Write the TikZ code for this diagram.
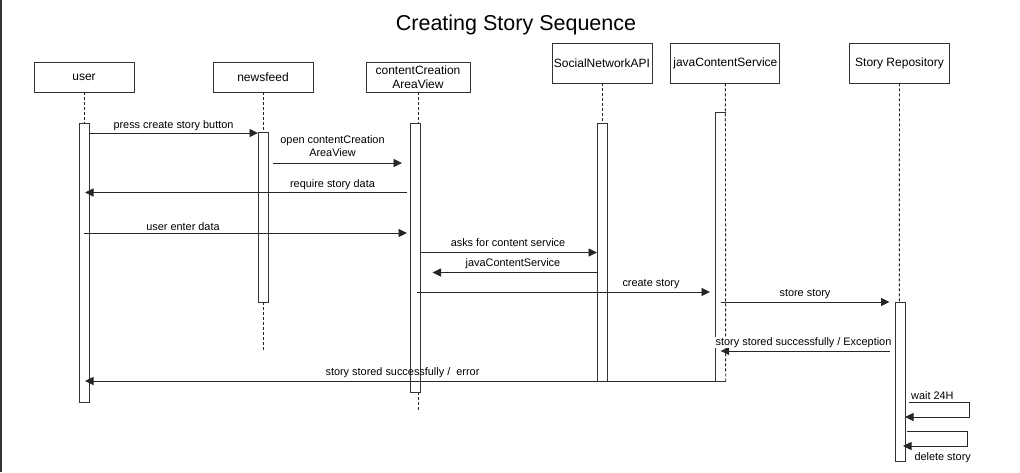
\documentclass[tikz,border=0pt]{standalone}
\usepackage{fontspec}
\setmainfont{Liberation Sans}
\usetikzlibrary{arrows.meta}
\begin{document}
\begin{tikzpicture}[x=1pt,y=-1pt,
  lbox/.style={draw=black!80, line width=0.9pt, fill=white, minimum width=100pt, inner sep=0pt, font=\fontsize{12}{13.6}\selectfont, align=center},
  act/.style={draw=black!80, line width=0.9pt, fill=white, minimum width=10pt, inner sep=0pt},
  life/.style={draw=black!85, line width=0.9pt, dash pattern=on 3pt off 2pt},
  msg/.style={draw=black!85, line width=0.9pt, -{Triangle[length=8.5pt,width=8pt]}},
  mlab/.style={font=\fontsize{10.9}{12.5}\selectfont, anchor=base, inner sep=0pt}]
\useasboundingbox (0,0) rectangle (1020,472);
\fill[black!80] (0,0) rectangle (2,472);
% title
\node[font=\fontsize{21.5}{24}\selectfont, anchor=base, inner sep=0pt] (title) at (516,30) {Creating Story Sequence};
% header boxes
\node[lbox, minimum height=30pt] (user) at (84,77) {user};
\node[lbox, minimum height=30pt] (news) at (263,77) {newsfeed};
\node[lbox, minimum width=104pt, minimum height=30pt] (ccav) at (418,77) {contentCreation\\AreaView};
\node[lbox, minimum height=40pt] (sna) at (602,63) {SocialNetworkAPI};
\node[lbox, minimum width=109pt, minimum height=40pt] (jcs) at (725.4,63) {javaContentService};
\node[lbox, minimum width=99.6pt, minimum height=40pt] (repo) at (899.5,63) {Story Repository};
% lifeline ends
\coordinate (uTop) at (84,123);
\coordinate (nTop) at (263,132);
\coordinate (nEnd) at (263,351);
\coordinate (cTop) at (418,123);
\coordinate (cBot) at (418,392);
\coordinate (cEnd) at (418,412);
\coordinate (sTop) at (602,123);
\coordinate (jBot) at (725.7,381);
\coordinate (rTop) at (899.3,302);
% lifelines
\draw[life] (user.south) -- (uTop);
\draw[life] (news.south) -- (nTop);
\draw[life] (nTop |- 302,302) -- (nEnd);
\draw[life] (ccav.south) -- (cTop);
\draw[life] (cBot) -- (cEnd);
\draw[life] (sna.south) -- (sTop);
\draw[life] (repo.south) -- (rTop);
% activations
\node[act, minimum height=279pt] (uA) at (84,262.5) {};
\node[act, minimum height=170pt] (nA) at (263,217) {};
\node[act, minimum height=269pt] (cA) at (415.3,257.5) {};
\node[act, minimum height=258pt] (sA) at (602,252) {};
\node[act, draw=none, minimum height=268pt] (jA) at (720.7,247) {};
\draw[black!80, line width=0.9pt] (jA.north east) -- (jA.north west) -- (jA.south west) -- (jA.south east);
\draw[life] (jcs.south) -- (jBot);
\node[act, minimum height=159pt] (rA) at (900,381.5) {};
% message end points
\coordinate (m1s) at (89,133);   \coordinate (m1e) at (258,133);
\coordinate (m2s) at (273,163);  \coordinate (m2e) at (402,163);
\coordinate (m3s) at (407,192.5);\coordinate (m3e) at (85,192.5);
\coordinate (m4s) at (84,233);   \coordinate (m4e) at (407,233);
\coordinate (m5s) at (420.5,252.5); \coordinate (m5e) at (597,252.5);
\coordinate (m6s) at (597,272.5); \coordinate (m6e) at (432.5,272.5);
\coordinate (m7s) at (417,292);  \coordinate (m7e) at (710,292);
\coordinate (m8s) at (720.7,302);\coordinate (m8e) at (889.5,302);
\coordinate (m9s) at (890,351);  \coordinate (m9e) at (720.7,351);
\coordinate (m10s) at (716,381); \coordinate (m10e) at (85,381);
\coordinate (w1) at (909,402); \coordinate (w2) at (969,402); \coordinate (w3) at (969,417); \coordinate (w4) at (905,417);
\coordinate (d1) at (907,431); \coordinate (d2) at (967,431); \coordinate (d3) at (967,446); \coordinate (d4) at (903,446);
% messages
\draw[msg] (m1s) -- (m1e);
\draw[msg] (m2s) -- (m2e);
\draw[msg] (m3s) -- (m3e);
\draw[msg] (m4s) -- (m4e);
\draw[msg] (m5s) -- (m5e);
\draw[msg] (m6s) -- (m6e);
\draw[msg] (m7s) -- (m7e);
\draw[msg] (m8s) -- (m8e);
\draw[msg] (m9s) -- (m9e);
\draw[msg] (m10s) -- (m10e);
\draw[msg] (w1) -- (w2) -- (w3) -- (w4);
\draw[msg] (d1) -- (d2) -- (d3) -- (d4);
% labels
\node[mlab] (l1) at (173.5,128.3) {press create story button};
\node[mlab] (l2a) at (332.5,143.3) {open contentCreation};
\node[mlab] (l2b) at (332.5,156.7) {AreaView};
\node[mlab] (l3) at (332.5,187.7) {require story data};
\node[mlab] (l4) at (183,230) {user enter data};
\node[mlab] (l5) at (508,246.7) {asks for content service};
\node[mlab] (l6) at (513,266.7) {javaContentService};
\node[mlab] (l7) at (651,286.7) {create story};
\node[mlab] (l8) at (805,296.7) {store story};
\node[mlab, fill=white, inner sep=0.5pt] (l9) at (803.5,345) {story stored successfully / Exception};
\node[mlab] (l10) at (402.5,375) {story stored successfully /~ error};
\node[mlab, anchor=base west] (l11) at (911,399.3) {wait 24H};
\node[mlab, anchor=base west] (l12) at (914.3,460) {delete story};
\end{tikzpicture}
\end{document}
